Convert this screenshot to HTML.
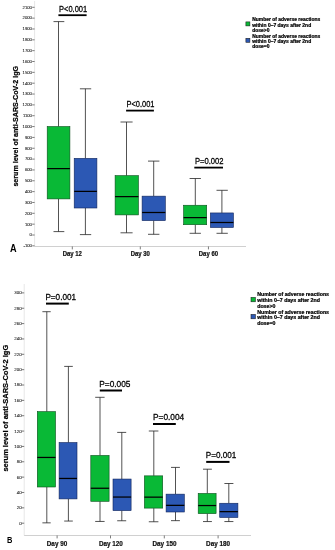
<!DOCTYPE html>
<html><head><meta charset="utf-8"><title>chart</title>
<style>html,body{margin:0;padding:0;background:#fff;}svg{display:block;will-change:transform;}</style></head>
<body><svg width="335" height="550" viewBox="0 0 335 550">
<rect width="335" height="550" fill="#fff"/>
<line x1="34.6" y1="1" x2="34.6" y2="246.5" stroke="#dcdcdc" stroke-width="0.7"/>
<line x1="34.6" y1="246.5" x2="246" y2="246.5" stroke="#c4c4c4" stroke-width="0.8"/>
<line x1="32.2" y1="245.84" x2="34.6" y2="245.84" stroke="#444" stroke-width="0.7"/>
<text x="31.9" y="247.19" font-size="4.2" font-family="Liberation Sans, sans-serif" font-weight="normal" text-anchor="end" fill="#222" stroke="#222" stroke-width="0.08">-100</text>
<line x1="32.2" y1="235.00" x2="34.6" y2="235.00" stroke="#444" stroke-width="0.7"/>
<text x="31.9" y="236.35" font-size="4.2" font-family="Liberation Sans, sans-serif" font-weight="normal" text-anchor="end" fill="#222" stroke="#222" stroke-width="0.08">0</text>
<line x1="32.2" y1="224.16" x2="34.6" y2="224.16" stroke="#444" stroke-width="0.7"/>
<text x="31.9" y="225.51" font-size="4.2" font-family="Liberation Sans, sans-serif" font-weight="normal" text-anchor="end" fill="#222" stroke="#222" stroke-width="0.08">100</text>
<line x1="32.2" y1="213.31" x2="34.6" y2="213.31" stroke="#444" stroke-width="0.7"/>
<text x="31.9" y="214.66" font-size="4.2" font-family="Liberation Sans, sans-serif" font-weight="normal" text-anchor="end" fill="#222" stroke="#222" stroke-width="0.08">200</text>
<line x1="32.2" y1="202.47" x2="34.6" y2="202.47" stroke="#444" stroke-width="0.7"/>
<text x="31.9" y="203.82" font-size="4.2" font-family="Liberation Sans, sans-serif" font-weight="normal" text-anchor="end" fill="#222" stroke="#222" stroke-width="0.08">300</text>
<line x1="32.2" y1="191.63" x2="34.6" y2="191.63" stroke="#444" stroke-width="0.7"/>
<text x="31.9" y="192.98" font-size="4.2" font-family="Liberation Sans, sans-serif" font-weight="normal" text-anchor="end" fill="#222" stroke="#222" stroke-width="0.08">400</text>
<line x1="32.2" y1="180.78" x2="34.6" y2="180.78" stroke="#444" stroke-width="0.7"/>
<text x="31.9" y="182.13" font-size="4.2" font-family="Liberation Sans, sans-serif" font-weight="normal" text-anchor="end" fill="#222" stroke="#222" stroke-width="0.08">500</text>
<line x1="32.2" y1="169.94" x2="34.6" y2="169.94" stroke="#444" stroke-width="0.7"/>
<text x="31.9" y="171.29" font-size="4.2" font-family="Liberation Sans, sans-serif" font-weight="normal" text-anchor="end" fill="#222" stroke="#222" stroke-width="0.08">600</text>
<line x1="32.2" y1="159.10" x2="34.6" y2="159.10" stroke="#444" stroke-width="0.7"/>
<text x="31.9" y="160.45" font-size="4.2" font-family="Liberation Sans, sans-serif" font-weight="normal" text-anchor="end" fill="#222" stroke="#222" stroke-width="0.08">700</text>
<line x1="32.2" y1="148.26" x2="34.6" y2="148.26" stroke="#444" stroke-width="0.7"/>
<text x="31.9" y="149.61" font-size="4.2" font-family="Liberation Sans, sans-serif" font-weight="normal" text-anchor="end" fill="#222" stroke="#222" stroke-width="0.08">800</text>
<line x1="32.2" y1="137.41" x2="34.6" y2="137.41" stroke="#444" stroke-width="0.7"/>
<text x="31.9" y="138.76" font-size="4.2" font-family="Liberation Sans, sans-serif" font-weight="normal" text-anchor="end" fill="#222" stroke="#222" stroke-width="0.08">900</text>
<line x1="32.2" y1="126.57" x2="34.6" y2="126.57" stroke="#444" stroke-width="0.7"/>
<text x="31.9" y="127.92" font-size="4.2" font-family="Liberation Sans, sans-serif" font-weight="normal" text-anchor="end" fill="#222" stroke="#222" stroke-width="0.08">1000</text>
<line x1="32.2" y1="115.73" x2="34.6" y2="115.73" stroke="#444" stroke-width="0.7"/>
<text x="31.9" y="117.08" font-size="4.2" font-family="Liberation Sans, sans-serif" font-weight="normal" text-anchor="end" fill="#222" stroke="#222" stroke-width="0.08">1100</text>
<line x1="32.2" y1="104.88" x2="34.6" y2="104.88" stroke="#444" stroke-width="0.7"/>
<text x="31.9" y="106.23" font-size="4.2" font-family="Liberation Sans, sans-serif" font-weight="normal" text-anchor="end" fill="#222" stroke="#222" stroke-width="0.08">1200</text>
<line x1="32.2" y1="94.04" x2="34.6" y2="94.04" stroke="#444" stroke-width="0.7"/>
<text x="31.9" y="95.39" font-size="4.2" font-family="Liberation Sans, sans-serif" font-weight="normal" text-anchor="end" fill="#222" stroke="#222" stroke-width="0.08">1300</text>
<line x1="32.2" y1="83.20" x2="34.6" y2="83.20" stroke="#444" stroke-width="0.7"/>
<text x="31.9" y="84.55" font-size="4.2" font-family="Liberation Sans, sans-serif" font-weight="normal" text-anchor="end" fill="#222" stroke="#222" stroke-width="0.08">1400</text>
<line x1="32.2" y1="72.35" x2="34.6" y2="72.35" stroke="#444" stroke-width="0.7"/>
<text x="31.9" y="73.70" font-size="4.2" font-family="Liberation Sans, sans-serif" font-weight="normal" text-anchor="end" fill="#222" stroke="#222" stroke-width="0.08">1500</text>
<line x1="32.2" y1="61.51" x2="34.6" y2="61.51" stroke="#444" stroke-width="0.7"/>
<text x="31.9" y="62.86" font-size="4.2" font-family="Liberation Sans, sans-serif" font-weight="normal" text-anchor="end" fill="#222" stroke="#222" stroke-width="0.08">1600</text>
<line x1="32.2" y1="50.67" x2="34.6" y2="50.67" stroke="#444" stroke-width="0.7"/>
<text x="31.9" y="52.02" font-size="4.2" font-family="Liberation Sans, sans-serif" font-weight="normal" text-anchor="end" fill="#222" stroke="#222" stroke-width="0.08">1700</text>
<line x1="32.2" y1="39.83" x2="34.6" y2="39.83" stroke="#444" stroke-width="0.7"/>
<text x="31.9" y="41.18" font-size="4.2" font-family="Liberation Sans, sans-serif" font-weight="normal" text-anchor="end" fill="#222" stroke="#222" stroke-width="0.08">1800</text>
<line x1="32.2" y1="28.98" x2="34.6" y2="28.98" stroke="#444" stroke-width="0.7"/>
<text x="31.9" y="30.33" font-size="4.2" font-family="Liberation Sans, sans-serif" font-weight="normal" text-anchor="end" fill="#222" stroke="#222" stroke-width="0.08">1900</text>
<line x1="32.2" y1="18.14" x2="34.6" y2="18.14" stroke="#444" stroke-width="0.7"/>
<text x="31.9" y="19.49" font-size="4.2" font-family="Liberation Sans, sans-serif" font-weight="normal" text-anchor="end" fill="#222" stroke="#222" stroke-width="0.08">2000</text>
<line x1="32.2" y1="7.30" x2="34.6" y2="7.30" stroke="#444" stroke-width="0.7"/>
<text x="31.9" y="8.65" font-size="4.2" font-family="Liberation Sans, sans-serif" font-weight="normal" text-anchor="end" fill="#222" stroke="#222" stroke-width="0.08">2100</text>
<line x1="58.5" y1="21.6" x2="58.5" y2="126.55" stroke="#262626" stroke-width="0.8"/>
<line x1="58.5" y1="198.89999999999998" x2="58.5" y2="231.6" stroke="#262626" stroke-width="0.8"/>
<line x1="53.5" y1="21.6" x2="64.3" y2="21.6" stroke="#262626" stroke-width="0.8"/>
<line x1="53.5" y1="231.6" x2="64.3" y2="231.6" stroke="#262626" stroke-width="0.8"/>
<rect x="47.2" y="126.55" width="22.70" height="72.35" fill="#09b936" stroke="#0a4d1c" stroke-width="0.6"/>
<line x1="47.2" y1="168.6" x2="69.9" y2="168.6" stroke="#000" stroke-width="1.25"/>
<line x1="85.4" y1="88.8" x2="85.4" y2="158.35" stroke="#262626" stroke-width="0.8"/>
<line x1="85.4" y1="208.0" x2="85.4" y2="234.6" stroke="#262626" stroke-width="0.8"/>
<line x1="79.9" y1="88.8" x2="91.2" y2="88.8" stroke="#262626" stroke-width="0.8"/>
<line x1="79.9" y1="234.6" x2="91.2" y2="234.6" stroke="#262626" stroke-width="0.8"/>
<rect x="74.19999999999999" y="158.35" width="22.70" height="49.65" fill="#2c58b4" stroke="#10245a" stroke-width="0.6"/>
<line x1="74.19999999999999" y1="191.39999999999998" x2="96.9" y2="191.39999999999998" stroke="#000" stroke-width="1.25"/>
<line x1="126.5" y1="122.0" x2="126.5" y2="175.65" stroke="#262626" stroke-width="0.8"/>
<line x1="126.5" y1="214.89999999999998" x2="126.5" y2="232.8" stroke="#262626" stroke-width="0.8"/>
<line x1="120.5" y1="122.0" x2="132.6" y2="122.0" stroke="#262626" stroke-width="0.8"/>
<line x1="120.5" y1="232.8" x2="132.6" y2="232.8" stroke="#262626" stroke-width="0.8"/>
<rect x="115.1" y="175.65" width="23.30" height="39.25" fill="#09b936" stroke="#0a4d1c" stroke-width="0.6"/>
<line x1="115.1" y1="196.6" x2="138.4" y2="196.6" stroke="#000" stroke-width="1.25"/>
<line x1="153.7" y1="161.1" x2="153.7" y2="196.15" stroke="#262626" stroke-width="0.8"/>
<line x1="153.7" y1="220.6" x2="153.7" y2="234.3" stroke="#262626" stroke-width="0.8"/>
<line x1="148" y1="161.1" x2="159.4" y2="161.1" stroke="#262626" stroke-width="0.8"/>
<line x1="148" y1="234.3" x2="159.4" y2="234.3" stroke="#262626" stroke-width="0.8"/>
<rect x="142.1" y="196.15" width="23.20" height="24.45" fill="#2c58b4" stroke="#10245a" stroke-width="0.6"/>
<line x1="142.1" y1="212.5" x2="165.3" y2="212.5" stroke="#000" stroke-width="1.25"/>
<line x1="195.3" y1="178.5" x2="195.3" y2="205.25" stroke="#262626" stroke-width="0.8"/>
<line x1="195.3" y1="224.7" x2="195.3" y2="233.3" stroke="#262626" stroke-width="0.8"/>
<line x1="189.6" y1="178.5" x2="200.9" y2="178.5" stroke="#262626" stroke-width="0.8"/>
<line x1="189.6" y1="233.3" x2="200.9" y2="233.3" stroke="#262626" stroke-width="0.8"/>
<rect x="183.6" y="205.25" width="23.10" height="19.45" fill="#09b936" stroke="#0a4d1c" stroke-width="0.6"/>
<line x1="183.6" y1="217.6" x2="206.70000000000002" y2="217.6" stroke="#000" stroke-width="1.25"/>
<line x1="221.9" y1="190.29999999999998" x2="221.9" y2="212.95" stroke="#262626" stroke-width="0.8"/>
<line x1="221.9" y1="227.5" x2="221.9" y2="233.3" stroke="#262626" stroke-width="0.8"/>
<line x1="216.5" y1="190.29999999999998" x2="227.8" y2="190.29999999999998" stroke="#262626" stroke-width="0.8"/>
<line x1="216.5" y1="233.3" x2="227.8" y2="233.3" stroke="#262626" stroke-width="0.8"/>
<rect x="210.4" y="212.95" width="23.00" height="14.55" fill="#2c58b4" stroke="#10245a" stroke-width="0.6"/>
<line x1="210.4" y1="222.5" x2="233.4" y2="222.5" stroke="#000" stroke-width="1.25"/>
<text x="59.0" y="12.3" font-size="9.4" font-family="Liberation Sans, sans-serif" font-weight="normal" text-anchor="start" fill="#000" textLength="28.2" lengthAdjust="spacingAndGlyphs" stroke="#000" stroke-width="0.28">P&lt;0.001</text>
<line x1="58.4" y1="15.2" x2="86.6" y2="15.2" stroke="#000" stroke-width="1.8"/>
<text x="126.5" y="107.2" font-size="9.4" font-family="Liberation Sans, sans-serif" font-weight="normal" text-anchor="start" fill="#000" textLength="28.0" lengthAdjust="spacingAndGlyphs" stroke="#000" stroke-width="0.28">P&lt;0.001</text>
<line x1="126.1" y1="110.6" x2="153.9" y2="110.6" stroke="#000" stroke-width="1.8"/>
<text x="194.9" y="164" font-size="9.4" font-family="Liberation Sans, sans-serif" font-weight="normal" text-anchor="start" fill="#000" textLength="28.6" lengthAdjust="spacingAndGlyphs" stroke="#000" stroke-width="0.28">P=0.002</text>
<line x1="194.3" y1="167.6" x2="223" y2="167.6" stroke="#000" stroke-width="1.8"/>
<line x1="72.3" y1="246.5" x2="72.3" y2="249.4" stroke="#444" stroke-width="0.7"/>
<text x="72.3" y="255.9" font-size="6.4" font-family="Liberation Sans, sans-serif" font-weight="bold" text-anchor="middle" fill="#111" textLength="19.3" lengthAdjust="spacingAndGlyphs" stroke="#111" stroke-width="0.2">Day 12</text>
<line x1="140.3" y1="246.5" x2="140.3" y2="249.4" stroke="#444" stroke-width="0.7"/>
<text x="140.3" y="255.9" font-size="6.4" font-family="Liberation Sans, sans-serif" font-weight="bold" text-anchor="middle" fill="#111" textLength="19.3" lengthAdjust="spacingAndGlyphs" stroke="#111" stroke-width="0.2">Day 30</text>
<line x1="208.45" y1="246.5" x2="208.45" y2="249.4" stroke="#444" stroke-width="0.7"/>
<text x="208.45" y="255.9" font-size="6.4" font-family="Liberation Sans, sans-serif" font-weight="bold" text-anchor="middle" fill="#111" textLength="19.3" lengthAdjust="spacingAndGlyphs" stroke="#111" stroke-width="0.2">Day 60</text>
<text x="10" y="252" font-size="10.2" font-family="Liberation Sans, sans-serif" font-weight="bold" text-anchor="start" fill="#000" textLength="6.6" lengthAdjust="spacingAndGlyphs" >A</text>
<text transform="translate(17.9,126.3) rotate(-90)" font-size="7" font-family="Liberation Sans, sans-serif" font-weight="bold" text-anchor="middle" textLength="120.6" lengthAdjust="spacingAndGlyphs" fill="#000" stroke="#000" stroke-width="0.22">serum level of anti-SARS-CoV-2 IgG</text>
<rect x="245.9" y="21.9" width="4" height="4" fill="#09b936" stroke="#1a1a1a" stroke-width="0.55"/>
<rect x="245.9" y="38.3" width="4" height="4" fill="#2c58b4" stroke="#1a1a1a" stroke-width="0.55"/>
<text x="252.2" y="21.3" font-size="4.95" font-family="Liberation Sans, sans-serif" font-weight="bold" text-anchor="start" fill="#000" textLength="68" lengthAdjust="spacingAndGlyphs" stroke="#000" stroke-width="0.22">Number of adverse reactions</text>
<text x="252.2" y="26.6" font-size="4.95" font-family="Liberation Sans, sans-serif" font-weight="bold" text-anchor="start" fill="#000" textLength="59" lengthAdjust="spacingAndGlyphs" stroke="#000" stroke-width="0.22">within 0–7 days after 2nd</text>
<text x="252.2" y="31.5" font-size="4.95" font-family="Liberation Sans, sans-serif" font-weight="bold" text-anchor="start" fill="#000" textLength="17.2" lengthAdjust="spacingAndGlyphs" stroke="#000" stroke-width="0.22">dose&gt;0</text>
<text x="252.2" y="37.5" font-size="4.95" font-family="Liberation Sans, sans-serif" font-weight="bold" text-anchor="start" fill="#000" textLength="68" lengthAdjust="spacingAndGlyphs" stroke="#000" stroke-width="0.22">Number of adverse reactions</text>
<text x="252.2" y="42.8" font-size="4.95" font-family="Liberation Sans, sans-serif" font-weight="bold" text-anchor="start" fill="#000" textLength="59" lengthAdjust="spacingAndGlyphs" stroke="#000" stroke-width="0.22">within 0–7 days after 2nd</text>
<text x="252.2" y="47.8" font-size="4.95" font-family="Liberation Sans, sans-serif" font-weight="bold" text-anchor="start" fill="#000" textLength="17.2" lengthAdjust="spacingAndGlyphs" stroke="#000" stroke-width="0.22">dose=0</text>
<line x1="24.2" y1="284" x2="24.2" y2="535.5" stroke="#dcdcdc" stroke-width="0.7"/>
<line x1="24.2" y1="535.5" x2="251" y2="535.5" stroke="#c4c4c4" stroke-width="0.8"/>
<line x1="21.6" y1="523.20" x2="24.2" y2="523.20" stroke="#444" stroke-width="0.7"/>
<text x="21.6" y="524.65" font-size="4.4" font-family="Liberation Sans, sans-serif" font-weight="normal" text-anchor="end" fill="#222" stroke="#222" stroke-width="0.08">0</text>
<line x1="21.6" y1="507.85" x2="24.2" y2="507.85" stroke="#444" stroke-width="0.7"/>
<text x="21.6" y="509.30" font-size="4.4" font-family="Liberation Sans, sans-serif" font-weight="normal" text-anchor="end" fill="#222" stroke="#222" stroke-width="0.08">20</text>
<line x1="21.6" y1="492.49" x2="24.2" y2="492.49" stroke="#444" stroke-width="0.7"/>
<text x="21.6" y="493.94" font-size="4.4" font-family="Liberation Sans, sans-serif" font-weight="normal" text-anchor="end" fill="#222" stroke="#222" stroke-width="0.08">40</text>
<line x1="21.6" y1="477.14" x2="24.2" y2="477.14" stroke="#444" stroke-width="0.7"/>
<text x="21.6" y="478.59" font-size="4.4" font-family="Liberation Sans, sans-serif" font-weight="normal" text-anchor="end" fill="#222" stroke="#222" stroke-width="0.08">60</text>
<line x1="21.6" y1="461.78" x2="24.2" y2="461.78" stroke="#444" stroke-width="0.7"/>
<text x="21.6" y="463.23" font-size="4.4" font-family="Liberation Sans, sans-serif" font-weight="normal" text-anchor="end" fill="#222" stroke="#222" stroke-width="0.08">80</text>
<line x1="21.6" y1="446.43" x2="24.2" y2="446.43" stroke="#444" stroke-width="0.7"/>
<text x="21.6" y="447.88" font-size="4.4" font-family="Liberation Sans, sans-serif" font-weight="normal" text-anchor="end" fill="#222" stroke="#222" stroke-width="0.08">100</text>
<line x1="21.6" y1="431.08" x2="24.2" y2="431.08" stroke="#444" stroke-width="0.7"/>
<text x="21.6" y="432.53" font-size="4.4" font-family="Liberation Sans, sans-serif" font-weight="normal" text-anchor="end" fill="#222" stroke="#222" stroke-width="0.08">120</text>
<line x1="21.6" y1="415.72" x2="24.2" y2="415.72" stroke="#444" stroke-width="0.7"/>
<text x="21.6" y="417.17" font-size="4.4" font-family="Liberation Sans, sans-serif" font-weight="normal" text-anchor="end" fill="#222" stroke="#222" stroke-width="0.08">140</text>
<line x1="21.6" y1="400.37" x2="24.2" y2="400.37" stroke="#444" stroke-width="0.7"/>
<text x="21.6" y="401.82" font-size="4.4" font-family="Liberation Sans, sans-serif" font-weight="normal" text-anchor="end" fill="#222" stroke="#222" stroke-width="0.08">160</text>
<line x1="21.6" y1="385.01" x2="24.2" y2="385.01" stroke="#444" stroke-width="0.7"/>
<text x="21.6" y="386.46" font-size="4.4" font-family="Liberation Sans, sans-serif" font-weight="normal" text-anchor="end" fill="#222" stroke="#222" stroke-width="0.08">180</text>
<line x1="21.6" y1="369.66" x2="24.2" y2="369.66" stroke="#444" stroke-width="0.7"/>
<text x="21.6" y="371.11" font-size="4.4" font-family="Liberation Sans, sans-serif" font-weight="normal" text-anchor="end" fill="#222" stroke="#222" stroke-width="0.08">200</text>
<line x1="21.6" y1="354.31" x2="24.2" y2="354.31" stroke="#444" stroke-width="0.7"/>
<text x="21.6" y="355.76" font-size="4.4" font-family="Liberation Sans, sans-serif" font-weight="normal" text-anchor="end" fill="#222" stroke="#222" stroke-width="0.08">220</text>
<line x1="21.6" y1="338.95" x2="24.2" y2="338.95" stroke="#444" stroke-width="0.7"/>
<text x="21.6" y="340.40" font-size="4.4" font-family="Liberation Sans, sans-serif" font-weight="normal" text-anchor="end" fill="#222" stroke="#222" stroke-width="0.08">240</text>
<line x1="21.6" y1="323.60" x2="24.2" y2="323.60" stroke="#444" stroke-width="0.7"/>
<text x="21.6" y="325.05" font-size="4.4" font-family="Liberation Sans, sans-serif" font-weight="normal" text-anchor="end" fill="#222" stroke="#222" stroke-width="0.08">260</text>
<line x1="21.6" y1="308.24" x2="24.2" y2="308.24" stroke="#444" stroke-width="0.7"/>
<text x="21.6" y="309.69" font-size="4.4" font-family="Liberation Sans, sans-serif" font-weight="normal" text-anchor="end" fill="#222" stroke="#222" stroke-width="0.08">280</text>
<line x1="21.6" y1="292.89" x2="24.2" y2="292.89" stroke="#444" stroke-width="0.7"/>
<text x="21.6" y="294.34" font-size="4.4" font-family="Liberation Sans, sans-serif" font-weight="normal" text-anchor="end" fill="#222" stroke="#222" stroke-width="0.08">300</text>
<line x1="46.8" y1="311.7" x2="46.8" y2="411.65" stroke="#262626" stroke-width="0.8"/>
<line x1="46.8" y1="487.0" x2="46.8" y2="522.85" stroke="#262626" stroke-width="0.8"/>
<line x1="42.4" y1="311.7" x2="50.7" y2="311.7" stroke="#262626" stroke-width="0.8"/>
<line x1="42.4" y1="522.85" x2="50.7" y2="522.85" stroke="#262626" stroke-width="0.8"/>
<rect x="37.3" y="411.65" width="18.20" height="75.35" fill="#09b936" stroke="#0a4d1c" stroke-width="0.6"/>
<line x1="37.3" y1="457.45" x2="55.5" y2="457.45" stroke="#000" stroke-width="1.25"/>
<line x1="68.4" y1="366.4" x2="68.4" y2="442.55" stroke="#262626" stroke-width="0.8"/>
<line x1="68.4" y1="498.9" x2="68.4" y2="521.0500000000001" stroke="#262626" stroke-width="0.8"/>
<line x1="64.2" y1="366.4" x2="72.8" y2="366.4" stroke="#262626" stroke-width="0.8"/>
<line x1="64.2" y1="521.0500000000001" x2="72.8" y2="521.0500000000001" stroke="#262626" stroke-width="0.8"/>
<rect x="59.099999999999994" y="442.55" width="17.90" height="56.35" fill="#2c58b4" stroke="#10245a" stroke-width="0.6"/>
<line x1="59.099999999999994" y1="478.45" x2="77.0" y2="478.45" stroke="#000" stroke-width="1.25"/>
<line x1="100" y1="397.29999999999995" x2="100" y2="455.45" stroke="#262626" stroke-width="0.8"/>
<line x1="100" y1="501.29999999999995" x2="100" y2="521.45" stroke="#262626" stroke-width="0.8"/>
<line x1="95.2" y1="397.29999999999995" x2="104.6" y2="397.29999999999995" stroke="#262626" stroke-width="0.8"/>
<line x1="95.2" y1="521.45" x2="104.6" y2="521.45" stroke="#262626" stroke-width="0.8"/>
<rect x="90.8" y="455.45" width="18.30" height="45.85" fill="#09b936" stroke="#0a4d1c" stroke-width="0.6"/>
<line x1="90.8" y1="488.25" x2="109.10000000000001" y2="488.25" stroke="#000" stroke-width="1.25"/>
<line x1="121.8" y1="432.4" x2="121.8" y2="479.05" stroke="#262626" stroke-width="0.8"/>
<line x1="121.8" y1="510.59999999999997" x2="121.8" y2="520.75" stroke="#262626" stroke-width="0.8"/>
<line x1="117.2" y1="432.4" x2="126.2" y2="432.4" stroke="#262626" stroke-width="0.8"/>
<line x1="117.2" y1="520.75" x2="126.2" y2="520.75" stroke="#262626" stroke-width="0.8"/>
<rect x="113.0" y="479.05" width="18.10" height="31.55" fill="#2c58b4" stroke="#10245a" stroke-width="0.6"/>
<line x1="113.0" y1="497.05" x2="131.1" y2="497.05" stroke="#000" stroke-width="1.25"/>
<line x1="153.8" y1="431.0" x2="153.8" y2="475.84999999999997" stroke="#262626" stroke-width="0.8"/>
<line x1="153.8" y1="508.09999999999997" x2="153.8" y2="521.75" stroke="#262626" stroke-width="0.8"/>
<line x1="148.8" y1="431.0" x2="158.4" y2="431.0" stroke="#262626" stroke-width="0.8"/>
<line x1="148.8" y1="521.75" x2="158.4" y2="521.75" stroke="#262626" stroke-width="0.8"/>
<rect x="144.4" y="475.84999999999997" width="18.30" height="32.25" fill="#09b936" stroke="#0a4d1c" stroke-width="0.6"/>
<line x1="144.4" y1="497.15000000000003" x2="162.7" y2="497.15000000000003" stroke="#000" stroke-width="1.25"/>
<line x1="175.5" y1="467.4" x2="175.5" y2="494.15" stroke="#262626" stroke-width="0.8"/>
<line x1="175.5" y1="512.0" x2="175.5" y2="520.6500000000001" stroke="#262626" stroke-width="0.8"/>
<line x1="171" y1="467.4" x2="179.9" y2="467.4" stroke="#262626" stroke-width="0.8"/>
<line x1="171" y1="520.6500000000001" x2="179.9" y2="520.6500000000001" stroke="#262626" stroke-width="0.8"/>
<rect x="166.10000000000002" y="494.15" width="18.20" height="17.85" fill="#2c58b4" stroke="#10245a" stroke-width="0.6"/>
<line x1="166.10000000000002" y1="505.35" x2="184.29999999999998" y2="505.35" stroke="#000" stroke-width="1.25"/>
<line x1="207.3" y1="469.2" x2="207.3" y2="493.45" stroke="#262626" stroke-width="0.8"/>
<line x1="207.3" y1="513.6" x2="207.3" y2="521.5500000000001" stroke="#262626" stroke-width="0.8"/>
<line x1="203" y1="469.2" x2="211.9" y2="469.2" stroke="#262626" stroke-width="0.8"/>
<line x1="203" y1="521.5500000000001" x2="211.9" y2="521.5500000000001" stroke="#262626" stroke-width="0.8"/>
<rect x="198.20000000000002" y="493.45" width="17.90" height="20.15" fill="#09b936" stroke="#0a4d1c" stroke-width="0.6"/>
<line x1="198.20000000000002" y1="505.55" x2="216.1" y2="505.55" stroke="#000" stroke-width="1.25"/>
<line x1="228.8" y1="483.5" x2="228.8" y2="503.25" stroke="#262626" stroke-width="0.8"/>
<line x1="228.8" y1="517.5" x2="228.8" y2="521.5500000000001" stroke="#262626" stroke-width="0.8"/>
<line x1="224.4" y1="483.5" x2="233.4" y2="483.5" stroke="#262626" stroke-width="0.8"/>
<line x1="224.4" y1="521.5500000000001" x2="233.4" y2="521.5500000000001" stroke="#262626" stroke-width="0.8"/>
<rect x="219.70000000000002" y="503.25" width="18.20" height="14.25" fill="#2c58b4" stroke="#10245a" stroke-width="0.6"/>
<line x1="219.70000000000002" y1="511.65000000000003" x2="237.89999999999998" y2="511.65000000000003" stroke="#000" stroke-width="1.25"/>
<text x="45.4" y="299.8" font-size="9.5" font-family="Liberation Sans, sans-serif" font-weight="normal" text-anchor="start" fill="#000" textLength="30.7" lengthAdjust="spacingAndGlyphs" stroke="#000" stroke-width="0.28">P=0.001</text>
<line x1="46" y1="303.6" x2="68.8" y2="303.6" stroke="#000" stroke-width="2.0"/>
<text x="99.3" y="387" font-size="9.5" font-family="Liberation Sans, sans-serif" font-weight="normal" text-anchor="start" fill="#000" textLength="31.2" lengthAdjust="spacingAndGlyphs" stroke="#000" stroke-width="0.28">P=0.005</text>
<line x1="99.8" y1="390.5" x2="122" y2="390.5" stroke="#000" stroke-width="2.0"/>
<text x="153" y="420" font-size="9.5" font-family="Liberation Sans, sans-serif" font-weight="normal" text-anchor="start" fill="#000" textLength="31.2" lengthAdjust="spacingAndGlyphs" stroke="#000" stroke-width="0.28">P=0.004</text>
<line x1="153" y1="424.0" x2="175.8" y2="424.0" stroke="#000" stroke-width="2.0"/>
<text x="205.8" y="457.7" font-size="9.5" font-family="Liberation Sans, sans-serif" font-weight="normal" text-anchor="start" fill="#000" textLength="30.5" lengthAdjust="spacingAndGlyphs" stroke="#000" stroke-width="0.28">P=0.001</text>
<line x1="206.2" y1="461.9" x2="229.5" y2="461.9" stroke="#000" stroke-width="2.0"/>
<line x1="57.1" y1="535.5" x2="57.1" y2="538.4" stroke="#444" stroke-width="0.7"/>
<text x="57" y="545.6" font-size="6.8" font-family="Liberation Sans, sans-serif" font-weight="bold" text-anchor="middle" fill="#111" textLength="20.4" lengthAdjust="spacingAndGlyphs" stroke="#111" stroke-width="0.2">Day 90</text>
<line x1="110.5" y1="535.5" x2="110.5" y2="538.4" stroke="#444" stroke-width="0.7"/>
<text x="110.9" y="545.6" font-size="6.8" font-family="Liberation Sans, sans-serif" font-weight="bold" text-anchor="middle" fill="#111" textLength="24" lengthAdjust="spacingAndGlyphs" stroke="#111" stroke-width="0.2">Day 120</text>
<line x1="164.3" y1="535.5" x2="164.3" y2="538.4" stroke="#444" stroke-width="0.7"/>
<text x="164.5" y="545.6" font-size="6.8" font-family="Liberation Sans, sans-serif" font-weight="bold" text-anchor="middle" fill="#111" textLength="24" lengthAdjust="spacingAndGlyphs" stroke="#111" stroke-width="0.2">Day 150</text>
<line x1="218.1" y1="535.5" x2="218.1" y2="538.4" stroke="#444" stroke-width="0.7"/>
<text x="218.1" y="545.6" font-size="6.8" font-family="Liberation Sans, sans-serif" font-weight="bold" text-anchor="middle" fill="#111" textLength="24" lengthAdjust="spacingAndGlyphs" stroke="#111" stroke-width="0.2">Day 180</text>
<text x="7" y="543.2" font-size="9.9" font-family="Liberation Sans, sans-serif" font-weight="bold" text-anchor="start" fill="#000" textLength="5.4" lengthAdjust="spacingAndGlyphs" >B</text>
<text transform="translate(7.9,408.2) rotate(-90)" font-size="7.3" font-family="Liberation Sans, sans-serif" font-weight="bold" text-anchor="middle" textLength="126.8" lengthAdjust="spacingAndGlyphs" fill="#000" stroke="#000" stroke-width="0.22">serum level of anti-SARS-CoV-2 IgG</text>
<rect x="251" y="297.4" width="4.4" height="4.4" fill="#09b936" stroke="#1a1a1a" stroke-width="0.55"/>
<rect x="251" y="314.4" width="4.4" height="4.4" fill="#2c58b4" stroke="#1a1a1a" stroke-width="0.55"/>
<text x="257.2" y="296.4" font-size="5.25" font-family="Liberation Sans, sans-serif" font-weight="bold" text-anchor="start" fill="#000" textLength="71.8" lengthAdjust="spacingAndGlyphs" stroke="#000" stroke-width="0.22">Number of adverse reactions</text>
<text x="257.2" y="302.1" font-size="5.25" font-family="Liberation Sans, sans-serif" font-weight="bold" text-anchor="start" fill="#000" textLength="62.8" lengthAdjust="spacingAndGlyphs" stroke="#000" stroke-width="0.22">within 0–7 days after 2nd</text>
<text x="257.2" y="307.7" font-size="5.25" font-family="Liberation Sans, sans-serif" font-weight="bold" text-anchor="start" fill="#000" textLength="18.2" lengthAdjust="spacingAndGlyphs" stroke="#000" stroke-width="0.22">dose&gt;0</text>
<text x="257.2" y="313.5" font-size="5.25" font-family="Liberation Sans, sans-serif" font-weight="bold" text-anchor="start" fill="#000" textLength="71.8" lengthAdjust="spacingAndGlyphs" stroke="#000" stroke-width="0.22">Number of adverse reactions</text>
<text x="257.2" y="319.0" font-size="5.25" font-family="Liberation Sans, sans-serif" font-weight="bold" text-anchor="start" fill="#000" textLength="62.8" lengthAdjust="spacingAndGlyphs" stroke="#000" stroke-width="0.22">within 0–7 days after 2nd</text>
<text x="257.2" y="324.5" font-size="5.25" font-family="Liberation Sans, sans-serif" font-weight="bold" text-anchor="start" fill="#000" textLength="18.2" lengthAdjust="spacingAndGlyphs" stroke="#000" stroke-width="0.22">dose=0</text>
</svg></body></html>
